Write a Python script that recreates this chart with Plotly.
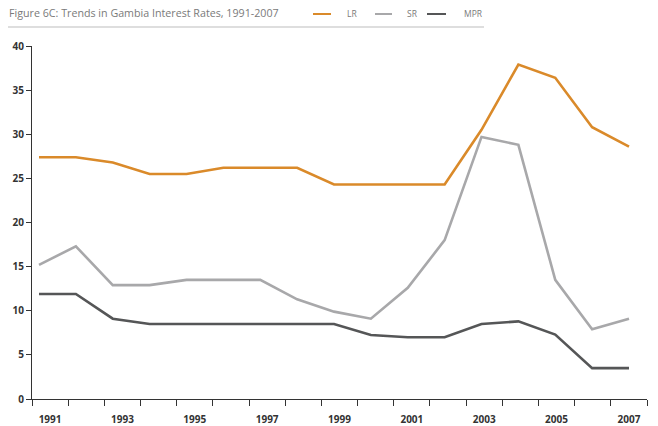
import plotly.graph_objects as go

years = list(range(1991, 2008))
label_years = [str(y) for y in years if y % 2 == 1]
series_names = ["LR", "SR", "MPR"]
lr = [27.4, 27.4, 26.8, 25.5, 25.5, 26.2, 26.2, 26.2, 24.3, 24.3, 24.3, 24.3, 30.5, 37.9, 36.4, 30.8, 28.6]
sr = [15.2, 17.3, 12.9, 12.9, 13.5, 13.5, 13.5, 11.3, 9.9, 9.1, 12.6, 18.0, 29.7, 28.8, 13.5, 7.9, 9.1]
mpr = [11.9, 11.9, 9.1, 8.5, 8.5, 8.5, 8.5, 8.5, 8.5, 7.25, 7.0, 7.0, 8.5, 8.8, 7.3, 3.5, 3.5]
colors = ["#DA8A2A", "#A8A8AA", "#555657"]

W, H = 658, 426
ml, mr, mt, mb = 32, 11, 46, 27
pw, ph = W - ml - mr, H - mt - mb

# x range (slightly different band layout from point layout, as in the original)
x0 = years[0] - 0.19
x1 = years[-1] + 0.488
nb = len(years)
band = (x1 - x0) / nb
centers = [x0 + band * (k + 0.5) for k in range(nb)]
tickvals = [c for c, y in zip(centers, years) if y % 2 == 1]

fig = go.Figure()
for name, vals, col in zip(series_names, [lr, sr, mpr], colors):
    fig.add_trace(go.Scatter(x=years, y=vals, mode="lines", name=name,
                             line=dict(color=col, width=2.6), showlegend=False))

def px2paper_x(px):
    return (px - ml) / pw

def px2paper_y(py):
    return (H - mb - py) / ph

shapes = []
annotations = []
# title + rule
annotations.append(dict(text="Figure 6C: Trends in Gambia Interest Rates, 1991-2007",
                        xref="paper", yref="paper", x=px2paper_x(7), y=px2paper_y(13),
                        xanchor="left", yanchor="middle", showarrow=False,
                        font=dict(family="Open Sans", size=10.7, color="#7a7a7a")))
shapes.append(dict(type="line", xref="paper", yref="paper",
                   x0=px2paper_x(8), x1=px2paper_x(484), y0=px2paper_y(27), y1=px2paper_y(27),
                   line=dict(color="#bdbdbd", width=1)))
# custom legend
leg = [(313, 331, 345), (375, 392, 405), (427, 446, 462)]
for (a, b, t), name, col in zip(leg, series_names, colors):
    shapes.append(dict(type="line", xref="paper", yref="paper",
                       x0=px2paper_x(a), x1=px2paper_x(b), y0=px2paper_y(14), y1=px2paper_y(14),
                       line=dict(color=col, width=2)))
    annotations.append(dict(text=name, xref="paper", yref="paper", x=px2paper_x(t), y=px2paper_y(14),
                            xanchor="left", yanchor="middle", showarrow=False,
                            font=dict(family="Open Sans", size=8.5, color="#7a7a7a")))

fig.update_layout(
    width=W, height=H,
    margin=dict(l=ml, r=mr, t=mt, b=mb, pad=0),
    paper_bgcolor="white", plot_bgcolor="white",
    shapes=shapes, annotations=annotations,
    xaxis=dict(range=[x0, x1], tickmode="array", tickvals=tickvals, ticktext=label_years,
               ticks="outside", ticklen=11, tickcolor="rgba(0,0,0,0)", automargin=False,
               showgrid=False, zeroline=False, showline=True, linecolor="#333", linewidth=1,
               tickfont=dict(family="Open Sans", size=10, color="#333", weight="bold"),
               minor=dict(tick0=x0, dtick=band, ticks="outside", ticklen=6,
                          tickcolor="#333", tickwidth=1, showgrid=False)),
    yaxis=dict(range=[0, 40], dtick=5, ticks="outside", ticklen=5, tickcolor="#333",
               automargin=False,
               showgrid=False, zeroline=False, showline=True, linecolor="#333", linewidth=1,
               tickfont=dict(family="Open Sans", size=10, color="#333", weight="bold")),
)

fig.write_html("out.html", config={"displayModeBar": False},
               post_script="document.body.style.margin='0';document.body.style.overflow='hidden';")
